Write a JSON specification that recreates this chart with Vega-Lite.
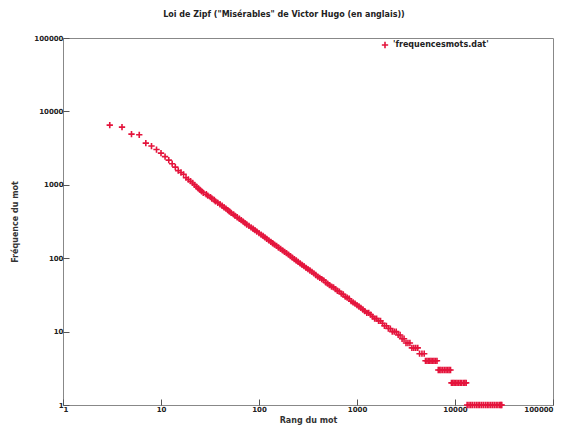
{
  "$schema": "https://vega.github.io/schema/vega-lite/v6.json",
  "width": 490,
  "height": 367,
  "autosize": {"type": "none"},
  "padding": {"left": 63, "top": 38, "right": 15, "bottom": 35},
  "background": "white",
  "title": {
    "text": "Loi de Zipf (\"Misérables\" de Victor Hugo (en anglais))",
    "font": "DejaVu Sans",
    "fontSize": 8,
    "fontWeight": "bold",
    "color": "#222",
    "anchor": "middle",
    "dx": -24,
    "offset": 15
  },
  "config": {
    "view": {"stroke": "#888", "strokeWidth": 1},
    "axis": {
      "domain": false,
      "grid": false,
      "tickColor": "#555",
      "tickSize": -6,
      "labelFont": "DejaVu Sans",
      "labelFontSize": 7,
      "labelFontWeight": "bold",
      "labelColor": "#222",
      "titleFont": "DejaVu Sans",
      "titleFontSize": 8,
      "titleFontWeight": "bold",
      "titleColor": "#333"
    }
  },
  "data": {
    "values": [
      {"r": 3, "f": 6500}, {"r": 4, "f": 6100}, {"r": 5, "f": 4900}, {"r": 6, "f": 4800},
      {"r": 7, "f": 3700}, {"r": 8, "f": 3370}, {"r": 9, "f": 3020}, {"r": 10, "f": 2700},
      {"r": 11, "f": 2420}, {"r": 12, "f": 2170}, {"r": 13, "f": 1940}, {"r": 14, "f": 1740},
      {"r": 15, "f": 1560}, {"r": 16, "f": 1470}, {"r": 17, "f": 1390}, {"r": 18, "f": 1250}, {"r": 19, "f": 1180}, {"r": 20, "f": 1120},
      {"r": 21, "f": 1060}, {"r": 22, "f": 1000}, {"r": 23, "f": 945}, {"r": 24, "f": 895}, {"r": 25, "f": 852}, {"r": 26, "f": 813},
      {"r": 27, "f": 778}, {"r": 29, "f": 743}, {"r": 30, "f": 711}, {"r": 32, "f": 679}, {"r": 33, "f": 650}, {"r": 35, "f": 621},
      {"r": 36, "f": 594}, {"r": 38, "f": 568}, {"r": 40, "f": 543}, {"r": 42, "f": 518}, {"r": 44, "f": 495}, {"r": 46, "f": 473},
      {"r": 48, "f": 453}, {"r": 50, "f": 433}, {"r": 52, "f": 414}, {"r": 55, "f": 395}, {"r": 57, "f": 378}, {"r": 60, "f": 361},
      {"r": 63, "f": 345}, {"r": 66, "f": 330}, {"r": 69, "f": 315}, {"r": 72, "f": 301}, {"r": 75, "f": 288}, {"r": 79, "f": 275},
      {"r": 83, "f": 263}, {"r": 87, "f": 252}, {"r": 91, "f": 241}, {"r": 95, "f": 230}, {"r": 100, "f": 220}, {"r": 105, "f": 210},
      {"r": 110, "f": 201}, {"r": 115, "f": 192}, {"r": 120, "f": 183}, {"r": 126, "f": 175}, {"r": 132, "f": 167}, {"r": 138, "f": 160},
      {"r": 144, "f": 153}, {"r": 151, "f": 147}, {"r": 158, "f": 140}, {"r": 166, "f": 134}, {"r": 174, "f": 128}, {"r": 182, "f": 122},
      {"r": 191, "f": 117}, {"r": 200, "f": 112}, {"r": 209, "f": 107}, {"r": 219, "f": 102}, {"r": 229, "f": 97}, {"r": 240, "f": 93},
      {"r": 251, "f": 89}, {"r": 263, "f": 85}, {"r": 275, "f": 81}, {"r": 288, "f": 78}, {"r": 302, "f": 74}, {"r": 316, "f": 71},
      {"r": 331, "f": 68}, {"r": 347, "f": 65}, {"r": 363, "f": 62}, {"r": 380, "f": 59}, {"r": 398, "f": 56}, {"r": 417, "f": 54},
      {"r": 437, "f": 52}, {"r": 457, "f": 50}, {"r": 479, "f": 47}, {"r": 501, "f": 45}, {"r": 525, "f": 43}, {"r": 550, "f": 41},
      {"r": 576, "f": 40}, {"r": 603, "f": 38}, {"r": 631, "f": 36}, {"r": 661, "f": 35}, {"r": 692, "f": 33}, {"r": 724, "f": 32},
      {"r": 759, "f": 30}, {"r": 794, "f": 29}, {"r": 832, "f": 28}, {"r": 871, "f": 26}, {"r": 912, "f": 25}, {"r": 955, "f": 24},
      {"r": 1000, "f": 23}, {"r": 1047, "f": 22}, {"r": 1096, "f": 21}, {"r": 1148, "f": 20}, {"r": 1202, "f": 19}, {"r": 1259, "f": 18},
      {"r": 1318, "f": 18}, {"r": 1380, "f": 17}, {"r": 1445, "f": 16}, {"r": 1514, "f": 15}, {"r": 1585, "f": 15}, {"r": 1660, "f": 14},
      {"r": 1738, "f": 14}, {"r": 1820, "f": 13}, {"r": 1905, "f": 12}, {"r": 1995, "f": 12}, {"r": 2089, "f": 11}, {"r": 2188, "f": 11},
      {"r": 2291, "f": 10}, {"r": 2399, "f": 10}, {"r": 2512, "f": 10}, {"r": 2630, "f": 9}, {"r": 2754, "f": 9}, {"r": 2884, "f": 8},
      {"r": 3020, "f": 8}, {"r": 3162, "f": 7}, {"r": 3311, "f": 7}, {"r": 3467, "f": 7}, {"r": 3631, "f": 6}, {"r": 3802, "f": 6},
      {"r": 3981, "f": 6}, {"r": 4169, "f": 6}, {"r": 4350, "f": 5}, {"r": 4600, "f": 5}, {"r": 4850, "f": 5},
      {"r": 5000, "f": 4}, {"r": 5170, "f": 4}, {"r": 5350, "f": 4}, {"r": 5520, "f": 4}, {"r": 5700, "f": 4}, {"r": 5900, "f": 4},
      {"r": 6100, "f": 4}, {"r": 6320, "f": 4}, {"r": 6550, "f": 4},
      {"r": 6750, "f": 3}, {"r": 6980, "f": 3}, {"r": 7200, "f": 3}, {"r": 7500, "f": 3}, {"r": 7800, "f": 3}, {"r": 8100, "f": 3},
      {"r": 8400, "f": 3}, {"r": 8700, "f": 3}, {"r": 9000, "f": 3},
      {"r": 9200, "f": 2}, {"r": 9500, "f": 2}, {"r": 9800, "f": 2}, {"r": 10150, "f": 2}, {"r": 10500, "f": 2}, {"r": 10900, "f": 2},
      {"r": 11300, "f": 2}, {"r": 11700, "f": 2}, {"r": 12200, "f": 2}, {"r": 12600, "f": 2}, {"r": 13000, "f": 2},
      {"r": 13300, "f": 1}, {"r": 13900, "f": 1}, {"r": 14500, "f": 1}, {"r": 15100, "f": 1}, {"r": 15800, "f": 1}, {"r": 16500, "f": 1},
      {"r": 17200, "f": 1}, {"r": 17900, "f": 1}, {"r": 18700, "f": 1}, {"r": 19500, "f": 1}, {"r": 20400, "f": 1}, {"r": 21300, "f": 1},
      {"r": 22200, "f": 1}, {"r": 23200, "f": 1}, {"r": 24200, "f": 1}, {"r": 25200, "f": 1}, {"r": 26300, "f": 1}, {"r": 27400, "f": 1},
      {"r": 28600, "f": 1}, {"r": 29300, "f": 1}, {"r": 30000, "f": 1}
    ]
  },
  "mark": {
    "type": "point",
    "shape": "M-1,0L1,0M0,-1L0,1",
    "filled": false,
    "size": 40,
    "strokeWidth": 1.6,
    "opacity": 1
  },
  "encoding": {
    "x": {
      "field": "r",
      "type": "quantitative",
      "scale": {"type": "log", "domain": [1, 100000], "nice": false},
      "axis": {"title": "Rang du mot", "values": [1, 10, 100, 1000, 10000, 100000], "format": "d", "labelPadding": 6, "titlePadding": 4}
    },
    "y": {
      "field": "f",
      "type": "quantitative",
      "scale": {"type": "log", "domain": [1, 100000], "nice": false},
      "axis": {"title": "Fréquence du mot", "values": [1, 10, 100, 1000, 10000, 100000], "format": "d", "labelPadding": 6, "titlePadding": 14}
    },
    "color": {
      "datum": "'frequencesmots.dat'",
      "scale": {"range": ["#e4143c"]},
      "legend": {
        "title": null,
        "orient": "none",
        "legendX": 318,
        "legendY": 3,
        "labelFont": "DejaVu Sans",
        "labelFontSize": 8,
        "labelFontWeight": "bold",
        "labelColor": "#222",
        "symbolSize": 40,
        "symbolStrokeWidth": 1.6
      }
    }
  }
}
